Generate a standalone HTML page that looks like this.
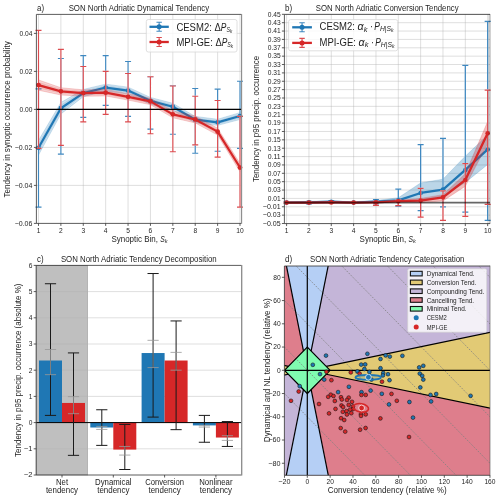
<!DOCTYPE html>
<html><head><meta charset="utf-8"><style>html,body{margin:0;padding:0;background:#fff;}svg{display:block;will-change:transform;}</style></head>
<body><svg width="500" height="500" viewBox="0 0 500 500" font-family="'Liberation Sans', sans-serif">
<rect width="500" height="500" fill="#fff"/>
<g stroke="#b0b0b0" stroke-opacity="0.5" stroke-width="0.8">
<line x1="38.50" y1="14.4" x2="38.50" y2="223.4"/>
<line x1="60.89" y1="14.4" x2="60.89" y2="223.4"/>
<line x1="83.28" y1="14.4" x2="83.28" y2="223.4"/>
<line x1="105.67" y1="14.4" x2="105.67" y2="223.4"/>
<line x1="128.06" y1="14.4" x2="128.06" y2="223.4"/>
<line x1="150.45" y1="14.4" x2="150.45" y2="223.4"/>
<line x1="172.84" y1="14.4" x2="172.84" y2="223.4"/>
<line x1="195.23" y1="14.4" x2="195.23" y2="223.4"/>
<line x1="217.62" y1="14.4" x2="217.62" y2="223.4"/>
<line x1="240.01" y1="14.4" x2="240.01" y2="223.4"/>
<line x1="36.4" y1="33.40" x2="241.4" y2="33.40"/>
<line x1="36.4" y1="71.40" x2="241.4" y2="71.40"/>
<line x1="36.4" y1="109.40" x2="241.4" y2="109.40"/>
<line x1="36.4" y1="147.40" x2="241.4" y2="147.40"/>
<line x1="36.4" y1="185.40" x2="241.4" y2="185.40"/>
</g>
<polygon points="38.50,140.56 60.89,102.56 83.28,89.45 105.67,84.13 128.06,87.17 150.45,97.43 172.84,103.32 195.23,116.43 217.62,119.28 240.01,112.63 240.01,119.47 217.62,125.36 195.23,122.89 172.84,110.16 150.45,104.27 128.06,94.01 105.67,90.97 83.28,96.67 60.89,113.96 38.50,155.00" fill="#1f77b4" fill-opacity="0.2" stroke="#1f77b4" stroke-opacity="0.25" stroke-width="0.8"/>
<polygon points="38.50,143.81 60.89,105.12 83.28,91.07 105.67,85.67 128.06,88.71 150.45,98.97 172.84,104.86 195.23,117.88 217.62,120.65 240.01,114.17 240.01,117.93 217.62,123.99 195.23,121.44 172.84,108.62 150.45,102.73 128.06,92.47 105.67,89.43 83.28,95.05 60.89,111.40 38.50,151.75" fill="#1f77b4" fill-opacity="0.12" stroke="#1f77b4" stroke-opacity="0.15" stroke-width="0.6"/>
<path d="M38.50,88.88V207.06M35.50,88.88H41.50M35.50,207.06H41.50M60.89,58.48V154.05M57.89,58.48H63.89M57.89,154.05H63.89M83.28,55.63V117.38M80.28,55.63H86.28M80.28,117.38H86.28M105.67,55.63V105.41M102.67,55.63H108.67M102.67,105.41H108.67M128.06,61.52V116.43M125.06,61.52H131.06M125.06,116.43H131.06M150.45,76.72V129.16M147.45,76.72H153.45M147.45,129.16H153.45M172.84,85.65V134.29M169.84,85.65H175.84M169.84,134.29H175.84M195.23,88.50V153.29M192.23,88.50H198.23M192.23,153.29H198.23M217.62,89.07V151.20M214.62,89.07H220.62M214.62,151.20H220.62M240.01,81.28V148.35M237.01,81.28H243.01M237.01,148.35H243.01" stroke="#fff" stroke-width="1.15" fill="none"/>
<path d="M38.50,88.88V207.06M35.50,88.88H41.50M35.50,207.06H41.50M60.89,58.48V154.05M57.89,58.48H63.89M57.89,154.05H63.89M83.28,55.63V117.38M80.28,55.63H86.28M80.28,117.38H86.28M105.67,55.63V105.41M102.67,55.63H108.67M102.67,105.41H108.67M128.06,61.52V116.43M125.06,61.52H131.06M125.06,116.43H131.06M150.45,76.72V129.16M147.45,76.72H153.45M147.45,129.16H153.45M172.84,85.65V134.29M169.84,85.65H175.84M169.84,134.29H175.84M195.23,88.50V153.29M192.23,88.50H198.23M192.23,153.29H198.23M217.62,89.07V151.20M214.62,89.07H220.62M214.62,151.20H220.62M240.01,81.28V148.35M237.01,81.28H243.01M237.01,148.35H243.01" stroke="#3f88c0" stroke-width="1.15" fill="none"/>
<polyline points="38.50,147.78 60.89,108.26 83.28,93.06 105.67,87.55 128.06,90.59 150.45,100.85 172.84,106.74 195.23,119.66 217.62,122.32 240.01,116.05" fill="none" stroke="#1f77b4" stroke-width="2.2" stroke-linejoin="round"/>
<circle cx="38.50" cy="147.78" r="2.4" fill="#1f77b4"/>
<circle cx="60.89" cy="108.26" r="2.4" fill="#1f77b4"/>
<circle cx="83.28" cy="93.06" r="2.4" fill="#1f77b4"/>
<circle cx="105.67" cy="87.55" r="2.4" fill="#1f77b4"/>
<circle cx="128.06" cy="90.59" r="2.4" fill="#1f77b4"/>
<circle cx="150.45" cy="100.85" r="2.4" fill="#1f77b4"/>
<circle cx="172.84" cy="106.74" r="2.4" fill="#1f77b4"/>
<circle cx="195.23" cy="119.66" r="2.4" fill="#1f77b4"/>
<circle cx="217.62" cy="122.32" r="2.4" fill="#1f77b4"/>
<circle cx="240.01" cy="116.05" r="2.4" fill="#1f77b4"/>
<polygon points="38.50,79.95 60.89,87.74 83.28,89.83 105.67,89.45 128.06,93.63 150.45,98.19 172.84,110.92 195.23,116.05 217.62,128.21 240.01,163.36 240.01,171.72 217.62,135.05 195.23,122.89 172.84,117.76 150.45,104.65 128.06,100.09 105.67,95.91 83.28,96.29 60.89,94.96 38.50,90.21" fill="#d62728" fill-opacity="0.2" stroke="#d62728" stroke-opacity="0.25" stroke-width="0.8"/>
<polygon points="38.50,82.26 60.89,89.36 83.28,91.28 105.67,90.90 128.06,95.08 150.45,99.64 172.84,112.46 195.23,117.59 217.62,129.75 240.01,165.24 240.01,169.84 217.62,133.51 195.23,121.35 172.84,116.22 150.45,103.20 128.06,98.64 105.67,94.46 83.28,94.84 60.89,93.34 38.50,87.90" fill="#d62728" fill-opacity="0.12" stroke="#d62728" stroke-opacity="0.15" stroke-width="0.6"/>
<path d="M38.50,30.36V148.35M35.50,30.36H41.50M35.50,148.35H41.50M60.89,49.36V145.31M57.89,49.36H63.89M57.89,145.31H63.89M83.28,66.46V121.94M80.28,66.46H86.28M80.28,121.94H86.28M105.67,71.40V114.34M102.67,71.40H108.67M102.67,114.34H108.67M128.06,73.49V121.94M125.06,73.49H131.06M125.06,121.94H131.06M150.45,76.72V133.72M147.45,76.72H153.45M147.45,133.72H153.45M172.84,86.03V151.77M169.84,86.03H175.84M169.84,151.77H175.84M195.23,96.29V144.93M192.23,96.29H198.23M192.23,144.93H198.23M217.62,100.47V157.09M214.62,100.47H220.62M214.62,157.09H220.62M240.01,116.43V207.06M237.01,116.43H243.01M237.01,207.06H243.01" stroke="#fff" stroke-width="1.15" fill="none"/>
<path d="M38.50,30.36V148.35M35.50,30.36H41.50M35.50,148.35H41.50M60.89,49.36V145.31M57.89,49.36H63.89M57.89,145.31H63.89M83.28,66.46V121.94M80.28,66.46H86.28M80.28,121.94H86.28M105.67,71.40V114.34M102.67,71.40H108.67M102.67,114.34H108.67M128.06,73.49V121.94M125.06,73.49H131.06M125.06,121.94H131.06M150.45,76.72V133.72M147.45,76.72H153.45M147.45,133.72H153.45M172.84,86.03V151.77M169.84,86.03H175.84M169.84,151.77H175.84M195.23,96.29V144.93M192.23,96.29H198.23M192.23,144.93H198.23M217.62,100.47V157.09M214.62,100.47H220.62M214.62,157.09H220.62M240.01,116.43V207.06M237.01,116.43H243.01M237.01,207.06H243.01" stroke="#dc4b4f" stroke-width="1.15" fill="none"/>
<polyline points="38.50,85.08 60.89,91.35 83.28,93.06 105.67,92.68 128.06,96.86 150.45,101.42 172.84,114.34 195.23,119.47 217.62,131.63 240.01,167.54" fill="none" stroke="#d62728" stroke-width="2.2" stroke-linejoin="round"/>
<circle cx="38.50" cy="85.08" r="2.4" fill="#d62728"/>
<circle cx="60.89" cy="91.35" r="2.4" fill="#d62728"/>
<circle cx="83.28" cy="93.06" r="2.4" fill="#d62728"/>
<circle cx="105.67" cy="92.68" r="2.4" fill="#d62728"/>
<circle cx="128.06" cy="96.86" r="2.4" fill="#d62728"/>
<circle cx="150.45" cy="101.42" r="2.4" fill="#d62728"/>
<circle cx="172.84" cy="114.34" r="2.4" fill="#d62728"/>
<circle cx="195.23" cy="119.47" r="2.4" fill="#d62728"/>
<circle cx="217.62" cy="131.63" r="2.4" fill="#d62728"/>
<circle cx="240.01" cy="167.54" r="2.4" fill="#d62728"/>
<line x1="36.40" y1="109.40" x2="241.40" y2="109.40" stroke="#000" stroke-width="1.2" />
<path d="M241.40,14.40H36.40V223.40H241.40" fill="none" stroke="#333" stroke-width="0.8"/>
<line x1="241.60" y1="14.00" x2="241.60" y2="223.80" stroke="#8a8a8a" stroke-width="1.1" />
<line x1="38.50" y1="223.40" x2="38.50" y2="225.90" stroke="#333" stroke-width="0.8" />
<text x="38.50" y="232.60" font-size="7.08" text-anchor="middle" fill="#1e1e1e" textLength="3.69" lengthAdjust="spacingAndGlyphs" >1</text>
<line x1="60.89" y1="223.40" x2="60.89" y2="225.90" stroke="#333" stroke-width="0.8" />
<text x="60.89" y="232.60" font-size="7.08" text-anchor="middle" fill="#1e1e1e" textLength="3.69" lengthAdjust="spacingAndGlyphs" >2</text>
<line x1="83.28" y1="223.40" x2="83.28" y2="225.90" stroke="#333" stroke-width="0.8" />
<text x="83.28" y="232.60" font-size="7.08" text-anchor="middle" fill="#1e1e1e" textLength="3.69" lengthAdjust="spacingAndGlyphs" >3</text>
<line x1="105.67" y1="223.40" x2="105.67" y2="225.90" stroke="#333" stroke-width="0.8" />
<text x="105.67" y="232.60" font-size="7.08" text-anchor="middle" fill="#1e1e1e" textLength="3.69" lengthAdjust="spacingAndGlyphs" >4</text>
<line x1="128.06" y1="223.40" x2="128.06" y2="225.90" stroke="#333" stroke-width="0.8" />
<text x="128.06" y="232.60" font-size="7.08" text-anchor="middle" fill="#1e1e1e" textLength="3.69" lengthAdjust="spacingAndGlyphs" >5</text>
<line x1="150.45" y1="223.40" x2="150.45" y2="225.90" stroke="#333" stroke-width="0.8" />
<text x="150.45" y="232.60" font-size="7.08" text-anchor="middle" fill="#1e1e1e" textLength="3.69" lengthAdjust="spacingAndGlyphs" >6</text>
<line x1="172.84" y1="223.40" x2="172.84" y2="225.90" stroke="#333" stroke-width="0.8" />
<text x="172.84" y="232.60" font-size="7.08" text-anchor="middle" fill="#1e1e1e" textLength="3.69" lengthAdjust="spacingAndGlyphs" >7</text>
<line x1="195.23" y1="223.40" x2="195.23" y2="225.90" stroke="#333" stroke-width="0.8" />
<text x="195.23" y="232.60" font-size="7.08" text-anchor="middle" fill="#1e1e1e" textLength="3.69" lengthAdjust="spacingAndGlyphs" >8</text>
<line x1="217.62" y1="223.40" x2="217.62" y2="225.90" stroke="#333" stroke-width="0.8" />
<text x="217.62" y="232.60" font-size="7.08" text-anchor="middle" fill="#1e1e1e" textLength="3.69" lengthAdjust="spacingAndGlyphs" >9</text>
<line x1="240.01" y1="223.40" x2="240.01" y2="225.90" stroke="#333" stroke-width="0.8" />
<text x="240.01" y="232.60" font-size="7.08" text-anchor="middle" fill="#1e1e1e" textLength="7.38" lengthAdjust="spacingAndGlyphs" >10</text>
<line x1="33.90" y1="33.40" x2="36.40" y2="33.40" stroke="#333" stroke-width="0.8" />
<text x="32.40" y="35.70" font-size="7.08" text-anchor="end" fill="#1e1e1e" textLength="12.91" lengthAdjust="spacingAndGlyphs" >0.04</text>
<line x1="33.90" y1="71.40" x2="36.40" y2="71.40" stroke="#333" stroke-width="0.8" />
<text x="32.40" y="73.70" font-size="7.08" text-anchor="end" fill="#1e1e1e" textLength="12.91" lengthAdjust="spacingAndGlyphs" >0.02</text>
<line x1="33.90" y1="109.40" x2="36.40" y2="109.40" stroke="#333" stroke-width="0.8" />
<text x="32.40" y="111.70" font-size="7.08" text-anchor="end" fill="#1e1e1e" textLength="12.91" lengthAdjust="spacingAndGlyphs" >0.00</text>
<line x1="33.90" y1="147.40" x2="36.40" y2="147.40" stroke="#333" stroke-width="0.8" />
<text x="32.40" y="149.70" font-size="7.08" text-anchor="end" fill="#1e1e1e" textLength="17.77" lengthAdjust="spacingAndGlyphs" >−0.02</text>
<line x1="33.90" y1="185.40" x2="36.40" y2="185.40" stroke="#333" stroke-width="0.8" />
<text x="32.40" y="187.70" font-size="7.08" text-anchor="end" fill="#1e1e1e" textLength="17.77" lengthAdjust="spacingAndGlyphs" >−0.04</text>
<line x1="33.90" y1="223.40" x2="36.40" y2="223.40" stroke="#333" stroke-width="0.8" />
<text x="32.40" y="225.70" font-size="7.08" text-anchor="end" fill="#1e1e1e" textLength="17.77" lengthAdjust="spacingAndGlyphs" >−0.06</text>
<rect x="146.3" y="19.5" width="90.7" height="32.5" rx="2" fill="#fff" fill-opacity="0.8" stroke="#d8d8d8" stroke-width="0.8"/>
<path d="M149.50,26.80H168.80" stroke="#1f77b4" stroke-width="2.3"/>
<path d="M159.15,22.30V31.30M156.45,22.30H161.85M156.45,31.30H161.85" stroke="#3f88c0" stroke-width="1.1" fill="none"/>
<circle cx="159.15" cy="26.80" r="2.5" fill="#1f77b4"/>
<path d="M149.50,42.00H168.80" stroke="#d62728" stroke-width="2.3"/>
<path d="M159.15,37.50V46.50M156.45,37.50H161.85M156.45,46.50H161.85" stroke="#dc4b4f" stroke-width="1.1" fill="none"/>
<circle cx="159.15" cy="42.00" r="2.5" fill="#d62728"/>
<text x="176.40" y="30.50" font-size="11.29" fill="#1e1e1e" textLength="44.43" lengthAdjust="spacingAndGlyphs" xml:space="preserve">CESM2: Δ</text>
<text x="220.83" y="30.50" font-size="11.29" fill="#1e1e1e" font-style="italic" textLength="5.58" lengthAdjust="spacingAndGlyphs" xml:space="preserve">P</text>
<text x="226.40" y="32.30" font-size="6.77" fill="#1e1e1e" font-style="italic" textLength="3.52" lengthAdjust="spacingAndGlyphs" xml:space="preserve">S</text>
<text x="229.93" y="33.10" font-size="4.74" fill="#1e1e1e" font-style="italic" textLength="2.25" lengthAdjust="spacingAndGlyphs" xml:space="preserve">k</text>
<text x="176.40" y="45.60" font-size="11.29" fill="#1e1e1e" textLength="45.36" lengthAdjust="spacingAndGlyphs" xml:space="preserve">MPI-GE: Δ</text>
<text x="221.76" y="45.60" font-size="11.29" fill="#1e1e1e" font-style="italic" textLength="5.58" lengthAdjust="spacingAndGlyphs" xml:space="preserve">P</text>
<text x="227.34" y="47.40" font-size="6.77" fill="#1e1e1e" font-style="italic" textLength="3.52" lengthAdjust="spacingAndGlyphs" xml:space="preserve">S</text>
<text x="230.86" y="48.20" font-size="4.74" fill="#1e1e1e" font-style="italic" textLength="2.25" lengthAdjust="spacingAndGlyphs" xml:space="preserve">k</text>
<text x="37.00" y="11.00" font-size="8.54" text-anchor="start" fill="#1e1e1e" textLength="7.02" lengthAdjust="spacingAndGlyphs" >a)</text>
<text x="138.90" y="11.00" font-size="8.54" text-anchor="middle" fill="#1e1e1e" textLength="140.54" lengthAdjust="spacingAndGlyphs" >SON North Adriatic Dynamical Tendency</text>
<text x="111.40" y="242.00" font-size="8.66" fill="#1e1e1e" textLength="48.83" lengthAdjust="spacingAndGlyphs" xml:space="preserve">Synoptic Bin, </text>
<text x="160.23" y="242.00" font-size="8.66" fill="#1e1e1e" font-style="italic" textLength="4.51" lengthAdjust="spacingAndGlyphs" xml:space="preserve">S</text>
<text x="164.74" y="243.40" font-size="6.06" fill="#1e1e1e" font-style="italic" textLength="2.88" lengthAdjust="spacingAndGlyphs" xml:space="preserve">k</text>
<text transform="translate(9.80,119.40) rotate(-90)" x="0" y="0" font-size="8.66" text-anchor="middle" fill="#1e1e1e" textLength="156.12" lengthAdjust="spacingAndGlyphs">Tendency in synoptic occurrence probability</text>
<g stroke="#b0b0b0" stroke-opacity="0.5" stroke-width="0.8">
<line x1="286.60" y1="14.4" x2="286.60" y2="223.6"/>
<line x1="308.94" y1="14.4" x2="308.94" y2="223.6"/>
<line x1="331.28" y1="14.4" x2="331.28" y2="223.6"/>
<line x1="353.62" y1="14.4" x2="353.62" y2="223.6"/>
<line x1="375.96" y1="14.4" x2="375.96" y2="223.6"/>
<line x1="398.30" y1="14.4" x2="398.30" y2="223.6"/>
<line x1="420.64" y1="14.4" x2="420.64" y2="223.6"/>
<line x1="442.98" y1="14.4" x2="442.98" y2="223.6"/>
<line x1="465.32" y1="14.4" x2="465.32" y2="223.6"/>
<line x1="487.66" y1="14.4" x2="487.66" y2="223.6"/>
<line x1="284.4" y1="14.32" x2="490.0" y2="14.32"/>
<line x1="284.4" y1="22.69" x2="490.0" y2="22.69"/>
<line x1="284.4" y1="31.06" x2="490.0" y2="31.06"/>
<line x1="284.4" y1="39.42" x2="490.0" y2="39.42"/>
<line x1="284.4" y1="47.79" x2="490.0" y2="47.79"/>
<line x1="284.4" y1="56.16" x2="490.0" y2="56.16"/>
<line x1="284.4" y1="64.53" x2="490.0" y2="64.53"/>
<line x1="284.4" y1="72.90" x2="490.0" y2="72.90"/>
<line x1="284.4" y1="81.26" x2="490.0" y2="81.26"/>
<line x1="284.4" y1="89.63" x2="490.0" y2="89.63"/>
<line x1="284.4" y1="98.00" x2="490.0" y2="98.00"/>
<line x1="284.4" y1="106.37" x2="490.0" y2="106.37"/>
<line x1="284.4" y1="114.74" x2="490.0" y2="114.74"/>
<line x1="284.4" y1="123.10" x2="490.0" y2="123.10"/>
<line x1="284.4" y1="131.47" x2="490.0" y2="131.47"/>
<line x1="284.4" y1="139.84" x2="490.0" y2="139.84"/>
<line x1="284.4" y1="148.21" x2="490.0" y2="148.21"/>
<line x1="284.4" y1="156.58" x2="490.0" y2="156.58"/>
<line x1="284.4" y1="164.94" x2="490.0" y2="164.94"/>
<line x1="284.4" y1="173.31" x2="490.0" y2="173.31"/>
<line x1="284.4" y1="181.68" x2="490.0" y2="181.68"/>
<line x1="284.4" y1="190.05" x2="490.0" y2="190.05"/>
<line x1="284.4" y1="198.42" x2="490.0" y2="198.42"/>
<line x1="284.4" y1="206.78" x2="490.0" y2="206.78"/>
<line x1="284.4" y1="215.15" x2="490.0" y2="215.15"/>
<line x1="284.4" y1="223.52" x2="490.0" y2="223.52"/>
</g>
<polygon points="286.60,201.76 308.94,201.34 331.28,200.93 353.62,201.76 375.96,200.51 398.30,197.79 420.64,182.94 442.98,179.17 465.32,156.16 487.66,134.99 487.66,164.53 465.32,182.52 442.98,195.91 420.64,200.51 398.30,201.34 375.96,202.60 353.62,203.44 331.28,202.60 308.94,203.44 286.60,203.44" fill="#1f77b4" fill-opacity="0.3" stroke="#1f77b4" stroke-opacity="0.25" stroke-width="0.8"/>
<path d="M286.60,201.76V203.44M283.60,201.76H289.60M283.60,203.44H289.60M308.94,201.34V203.86M305.94,201.34H311.94M305.94,203.86H311.94M331.28,200.51V203.44M328.28,200.51H334.28M328.28,203.44H334.28M353.62,201.76V203.44M350.62,201.76H356.62M350.62,203.44H356.62M375.96,199.59V203.86M372.96,199.59H378.96M372.96,203.86H378.96M398.30,189.21V206.49M395.30,189.21H401.30M395.30,206.49H401.30M420.64,144.61V210.72M417.64,144.61H423.64M417.64,210.72H423.64M442.98,138.29V206.99M439.98,138.29H445.98M439.98,206.99H445.98M465.32,65.49V212.22M462.32,65.49H468.32M462.32,212.22H468.32M487.66,21.43V220.30M484.66,21.43H490.66M484.66,220.30H490.66" stroke="#fff" stroke-width="1.25" fill="none"/>
<path d="M286.60,201.76V203.44M283.60,201.76H289.60M283.60,203.44H289.60M308.94,201.34V203.86M305.94,201.34H311.94M305.94,203.86H311.94M331.28,200.51V203.44M328.28,200.51H334.28M328.28,203.44H334.28M353.62,201.76V203.44M350.62,201.76H356.62M350.62,203.44H356.62M375.96,199.59V203.86M372.96,199.59H378.96M372.96,203.86H378.96M398.30,189.21V206.49M395.30,189.21H401.30M395.30,206.49H401.30M420.64,144.61V210.72M417.64,144.61H423.64M417.64,210.72H423.64M442.98,138.29V206.99M439.98,138.29H445.98M439.98,206.99H445.98M465.32,65.49V212.22M462.32,65.49H468.32M462.32,212.22H468.32M487.66,21.43V220.30M484.66,21.43H490.66M484.66,220.30H490.66" stroke="#3f88c0" stroke-width="1.25" fill="none"/>
<polyline points="286.60,202.60 308.94,202.39 331.28,201.76 353.62,202.60 375.96,201.60 398.30,200.30 420.64,192.98 442.98,189.63 465.32,169.96 487.66,149.46" fill="none" stroke="#1f77b4" stroke-width="2.3" stroke-linejoin="round"/>
<circle cx="286.60" cy="202.60" r="2.3" fill="#1f77b4"/>
<circle cx="308.94" cy="202.39" r="2.3" fill="#1f77b4"/>
<circle cx="331.28" cy="201.76" r="2.3" fill="#1f77b4"/>
<circle cx="353.62" cy="202.60" r="2.3" fill="#1f77b4"/>
<circle cx="375.96" cy="201.60" r="2.3" fill="#1f77b4"/>
<circle cx="398.30" cy="200.30" r="2.3" fill="#1f77b4"/>
<circle cx="420.64" cy="192.98" r="2.3" fill="#1f77b4"/>
<circle cx="442.98" cy="189.63" r="2.3" fill="#1f77b4"/>
<circle cx="465.32" cy="169.96" r="2.3" fill="#1f77b4"/>
<circle cx="487.66" cy="149.46" r="2.3" fill="#1f77b4"/>
<polygon points="286.60,202.18 308.94,202.18 331.28,201.76 353.62,202.18 375.96,201.76 398.30,200.51 420.64,198.42 442.98,194.65 465.32,173.73 487.66,121.43 487.66,143.77 465.32,186.28 442.98,200.93 420.64,202.60 398.30,202.18 375.96,203.02 353.62,203.02 331.28,203.02 308.94,203.02 286.60,203.02" fill="#d62728" fill-opacity="0.3" stroke="#d62728" stroke-opacity="0.25" stroke-width="0.8"/>
<path d="M286.60,202.18V203.02M283.60,202.18H289.60M283.60,203.02H289.60M308.94,202.18V203.02M305.94,202.18H311.94M305.94,203.02H311.94M331.28,202.18V203.02M328.28,202.18H334.28M328.28,203.02H334.28M353.62,202.18V203.02M350.62,202.18H356.62M350.62,203.02H356.62M375.96,201.34V205.40M372.96,201.34H378.96M372.96,205.40H378.96M398.30,200.09V205.61M395.30,200.09H401.30M395.30,205.61H401.30M420.64,188.37V217.24M417.64,188.37H423.64M417.64,217.24H423.64M442.98,190.88V220.30M439.98,190.88H445.98M439.98,220.30H445.98M465.32,163.69V216.41M462.32,163.69H468.32M462.32,216.41H468.32M487.66,90.22V204.27M484.66,90.22H490.66M484.66,204.27H490.66" stroke="#fff" stroke-width="1.25" fill="none"/>
<path d="M286.60,202.18V203.02M283.60,202.18H289.60M283.60,203.02H289.60M308.94,202.18V203.02M305.94,202.18H311.94M305.94,203.02H311.94M331.28,202.18V203.02M328.28,202.18H334.28M328.28,203.02H334.28M353.62,202.18V203.02M350.62,202.18H356.62M350.62,203.02H356.62M375.96,201.34V205.40M372.96,201.34H378.96M372.96,205.40H378.96M398.30,200.09V205.61M395.30,200.09H401.30M395.30,205.61H401.30M420.64,188.37V217.24M417.64,188.37H423.64M417.64,217.24H423.64M442.98,190.88V220.30M439.98,190.88H445.98M439.98,220.30H445.98M465.32,163.69V216.41M462.32,163.69H468.32M462.32,216.41H468.32M487.66,90.22V204.27M484.66,90.22H490.66M484.66,204.27H490.66" stroke="#dc4b4f" stroke-width="1.25" fill="none"/>
<polyline points="286.60,202.60 308.94,202.60 331.28,202.39 353.62,202.60 375.96,202.39 398.30,201.22 420.64,200.59 442.98,197.37 465.32,180.01 487.66,133.35" fill="none" stroke="#d62728" stroke-width="2.3" stroke-linejoin="round"/>
<circle cx="286.60" cy="202.60" r="2.3" fill="#d62728"/>
<circle cx="308.94" cy="202.60" r="2.3" fill="#d62728"/>
<circle cx="331.28" cy="202.39" r="2.3" fill="#d62728"/>
<circle cx="353.62" cy="202.60" r="2.3" fill="#d62728"/>
<circle cx="375.96" cy="202.39" r="2.3" fill="#d62728"/>
<circle cx="398.30" cy="201.22" r="2.3" fill="#d62728"/>
<circle cx="420.64" cy="200.59" r="2.3" fill="#d62728"/>
<circle cx="442.98" cy="197.37" r="2.3" fill="#d62728"/>
<circle cx="465.32" cy="180.01" r="2.3" fill="#d62728"/>
<circle cx="487.66" cy="133.35" r="2.3" fill="#d62728"/>
<line x1="284.40" y1="202.60" x2="490.00" y2="202.60" stroke="#000" stroke-width="1.6" stroke-opacity="0.6"/>
<rect x="488.6" y="14.00" width="2.2" height="210.00" fill="#000" fill-opacity="0.22"/>
<path d="M490.00,14.40H284.40V223.60H490.00" fill="none" stroke="#333" stroke-width="0.8"/>
<line x1="286.60" y1="223.60" x2="286.60" y2="226.10" stroke="#333" stroke-width="0.8" />
<text x="286.60" y="232.60" font-size="7.08" text-anchor="middle" fill="#1e1e1e" textLength="3.69" lengthAdjust="spacingAndGlyphs" >1</text>
<line x1="308.94" y1="223.60" x2="308.94" y2="226.10" stroke="#333" stroke-width="0.8" />
<text x="308.94" y="232.60" font-size="7.08" text-anchor="middle" fill="#1e1e1e" textLength="3.69" lengthAdjust="spacingAndGlyphs" >2</text>
<line x1="331.28" y1="223.60" x2="331.28" y2="226.10" stroke="#333" stroke-width="0.8" />
<text x="331.28" y="232.60" font-size="7.08" text-anchor="middle" fill="#1e1e1e" textLength="3.69" lengthAdjust="spacingAndGlyphs" >3</text>
<line x1="353.62" y1="223.60" x2="353.62" y2="226.10" stroke="#333" stroke-width="0.8" />
<text x="353.62" y="232.60" font-size="7.08" text-anchor="middle" fill="#1e1e1e" textLength="3.69" lengthAdjust="spacingAndGlyphs" >4</text>
<line x1="375.96" y1="223.60" x2="375.96" y2="226.10" stroke="#333" stroke-width="0.8" />
<text x="375.96" y="232.60" font-size="7.08" text-anchor="middle" fill="#1e1e1e" textLength="3.69" lengthAdjust="spacingAndGlyphs" >5</text>
<line x1="398.30" y1="223.60" x2="398.30" y2="226.10" stroke="#333" stroke-width="0.8" />
<text x="398.30" y="232.60" font-size="7.08" text-anchor="middle" fill="#1e1e1e" textLength="3.69" lengthAdjust="spacingAndGlyphs" >6</text>
<line x1="420.64" y1="223.60" x2="420.64" y2="226.10" stroke="#333" stroke-width="0.8" />
<text x="420.64" y="232.60" font-size="7.08" text-anchor="middle" fill="#1e1e1e" textLength="3.69" lengthAdjust="spacingAndGlyphs" >7</text>
<line x1="442.98" y1="223.60" x2="442.98" y2="226.10" stroke="#333" stroke-width="0.8" />
<text x="442.98" y="232.60" font-size="7.08" text-anchor="middle" fill="#1e1e1e" textLength="3.69" lengthAdjust="spacingAndGlyphs" >8</text>
<line x1="465.32" y1="223.60" x2="465.32" y2="226.10" stroke="#333" stroke-width="0.8" />
<text x="465.32" y="232.60" font-size="7.08" text-anchor="middle" fill="#1e1e1e" textLength="3.69" lengthAdjust="spacingAndGlyphs" >9</text>
<line x1="487.66" y1="223.60" x2="487.66" y2="226.10" stroke="#333" stroke-width="0.8" />
<text x="487.66" y="232.60" font-size="7.08" text-anchor="middle" fill="#1e1e1e" textLength="7.38" lengthAdjust="spacingAndGlyphs" >10</text>
<line x1="281.90" y1="14.32" x2="284.40" y2="14.32" stroke="#333" stroke-width="0.8" />
<text x="280.60" y="16.62" font-size="7.08" text-anchor="end" fill="#1e1e1e" textLength="12.91" lengthAdjust="spacingAndGlyphs" >0.45</text>
<line x1="281.90" y1="22.69" x2="284.40" y2="22.69" stroke="#333" stroke-width="0.8" />
<text x="280.60" y="24.99" font-size="7.08" text-anchor="end" fill="#1e1e1e" textLength="12.91" lengthAdjust="spacingAndGlyphs" >0.43</text>
<line x1="281.90" y1="31.06" x2="284.40" y2="31.06" stroke="#333" stroke-width="0.8" />
<text x="280.60" y="33.36" font-size="7.08" text-anchor="end" fill="#1e1e1e" textLength="12.91" lengthAdjust="spacingAndGlyphs" >0.41</text>
<line x1="281.90" y1="39.42" x2="284.40" y2="39.42" stroke="#333" stroke-width="0.8" />
<text x="280.60" y="41.72" font-size="7.08" text-anchor="end" fill="#1e1e1e" textLength="12.91" lengthAdjust="spacingAndGlyphs" >0.39</text>
<line x1="281.90" y1="47.79" x2="284.40" y2="47.79" stroke="#333" stroke-width="0.8" />
<text x="280.60" y="50.09" font-size="7.08" text-anchor="end" fill="#1e1e1e" textLength="12.91" lengthAdjust="spacingAndGlyphs" >0.37</text>
<line x1="281.90" y1="56.16" x2="284.40" y2="56.16" stroke="#333" stroke-width="0.8" />
<text x="280.60" y="58.46" font-size="7.08" text-anchor="end" fill="#1e1e1e" textLength="12.91" lengthAdjust="spacingAndGlyphs" >0.35</text>
<line x1="281.90" y1="64.53" x2="284.40" y2="64.53" stroke="#333" stroke-width="0.8" />
<text x="280.60" y="66.83" font-size="7.08" text-anchor="end" fill="#1e1e1e" textLength="12.91" lengthAdjust="spacingAndGlyphs" >0.33</text>
<line x1="281.90" y1="72.90" x2="284.40" y2="72.90" stroke="#333" stroke-width="0.8" />
<text x="280.60" y="75.20" font-size="7.08" text-anchor="end" fill="#1e1e1e" textLength="12.91" lengthAdjust="spacingAndGlyphs" >0.31</text>
<line x1="281.90" y1="81.26" x2="284.40" y2="81.26" stroke="#333" stroke-width="0.8" />
<text x="280.60" y="83.56" font-size="7.08" text-anchor="end" fill="#1e1e1e" textLength="12.91" lengthAdjust="spacingAndGlyphs" >0.29</text>
<line x1="281.90" y1="89.63" x2="284.40" y2="89.63" stroke="#333" stroke-width="0.8" />
<text x="280.60" y="91.93" font-size="7.08" text-anchor="end" fill="#1e1e1e" textLength="12.91" lengthAdjust="spacingAndGlyphs" >0.27</text>
<line x1="281.90" y1="98.00" x2="284.40" y2="98.00" stroke="#333" stroke-width="0.8" />
<text x="280.60" y="100.30" font-size="7.08" text-anchor="end" fill="#1e1e1e" textLength="12.91" lengthAdjust="spacingAndGlyphs" >0.25</text>
<line x1="281.90" y1="106.37" x2="284.40" y2="106.37" stroke="#333" stroke-width="0.8" />
<text x="280.60" y="108.67" font-size="7.08" text-anchor="end" fill="#1e1e1e" textLength="12.91" lengthAdjust="spacingAndGlyphs" >0.23</text>
<line x1="281.90" y1="114.74" x2="284.40" y2="114.74" stroke="#333" stroke-width="0.8" />
<text x="280.60" y="117.04" font-size="7.08" text-anchor="end" fill="#1e1e1e" textLength="12.91" lengthAdjust="spacingAndGlyphs" >0.21</text>
<line x1="281.90" y1="123.10" x2="284.40" y2="123.10" stroke="#333" stroke-width="0.8" />
<text x="280.60" y="125.40" font-size="7.08" text-anchor="end" fill="#1e1e1e" textLength="12.91" lengthAdjust="spacingAndGlyphs" >0.19</text>
<line x1="281.90" y1="131.47" x2="284.40" y2="131.47" stroke="#333" stroke-width="0.8" />
<text x="280.60" y="133.77" font-size="7.08" text-anchor="end" fill="#1e1e1e" textLength="12.91" lengthAdjust="spacingAndGlyphs" >0.17</text>
<line x1="281.90" y1="139.84" x2="284.40" y2="139.84" stroke="#333" stroke-width="0.8" />
<text x="280.60" y="142.14" font-size="7.08" text-anchor="end" fill="#1e1e1e" textLength="12.91" lengthAdjust="spacingAndGlyphs" >0.15</text>
<line x1="281.90" y1="148.21" x2="284.40" y2="148.21" stroke="#333" stroke-width="0.8" />
<text x="280.60" y="150.51" font-size="7.08" text-anchor="end" fill="#1e1e1e" textLength="12.91" lengthAdjust="spacingAndGlyphs" >0.13</text>
<line x1="281.90" y1="156.58" x2="284.40" y2="156.58" stroke="#333" stroke-width="0.8" />
<text x="280.60" y="158.88" font-size="7.08" text-anchor="end" fill="#1e1e1e" textLength="12.91" lengthAdjust="spacingAndGlyphs" >0.11</text>
<line x1="281.90" y1="164.94" x2="284.40" y2="164.94" stroke="#333" stroke-width="0.8" />
<text x="280.60" y="167.24" font-size="7.08" text-anchor="end" fill="#1e1e1e" textLength="12.91" lengthAdjust="spacingAndGlyphs" >0.09</text>
<line x1="281.90" y1="173.31" x2="284.40" y2="173.31" stroke="#333" stroke-width="0.8" />
<text x="280.60" y="175.61" font-size="7.08" text-anchor="end" fill="#1e1e1e" textLength="12.91" lengthAdjust="spacingAndGlyphs" >0.07</text>
<line x1="281.90" y1="181.68" x2="284.40" y2="181.68" stroke="#333" stroke-width="0.8" />
<text x="280.60" y="183.98" font-size="7.08" text-anchor="end" fill="#1e1e1e" textLength="12.91" lengthAdjust="spacingAndGlyphs" >0.05</text>
<line x1="281.90" y1="190.05" x2="284.40" y2="190.05" stroke="#333" stroke-width="0.8" />
<text x="280.60" y="192.35" font-size="7.08" text-anchor="end" fill="#1e1e1e" textLength="12.91" lengthAdjust="spacingAndGlyphs" >0.03</text>
<line x1="281.90" y1="198.42" x2="284.40" y2="198.42" stroke="#333" stroke-width="0.8" />
<text x="280.60" y="200.72" font-size="7.08" text-anchor="end" fill="#1e1e1e" textLength="12.91" lengthAdjust="spacingAndGlyphs" >0.01</text>
<line x1="281.90" y1="206.78" x2="284.40" y2="206.78" stroke="#333" stroke-width="0.8" />
<text x="280.60" y="209.08" font-size="7.08" text-anchor="end" fill="#1e1e1e" textLength="17.77" lengthAdjust="spacingAndGlyphs" >−0.01</text>
<line x1="281.90" y1="215.15" x2="284.40" y2="215.15" stroke="#333" stroke-width="0.8" />
<text x="280.60" y="217.45" font-size="7.08" text-anchor="end" fill="#1e1e1e" textLength="17.77" lengthAdjust="spacingAndGlyphs" >−0.03</text>
<line x1="281.90" y1="223.52" x2="284.40" y2="223.52" stroke="#333" stroke-width="0.8" />
<text x="280.60" y="225.82" font-size="7.08" text-anchor="end" fill="#1e1e1e" textLength="17.77" lengthAdjust="spacingAndGlyphs" >−0.05</text>
<rect x="288.6" y="19.6" width="109.1" height="31.2" rx="2" fill="#fff" fill-opacity="0.8" stroke="#d8d8d8" stroke-width="0.8"/>
<path d="M292.20,27.30H311.90" stroke="#1f77b4" stroke-width="2.3"/>
<path d="M302.05,22.80V31.80M299.35,22.80H304.75M299.35,31.80H304.75" stroke="#3f88c0" stroke-width="1.1" fill="none"/>
<circle cx="302.05" cy="27.30" r="2.5" fill="#1f77b4"/>
<path d="M292.20,42.90H311.90" stroke="#d62728" stroke-width="2.3"/>
<path d="M302.05,38.40V47.40M299.35,38.40H304.75M299.35,47.40H304.75" stroke="#dc4b4f" stroke-width="1.1" fill="none"/>
<circle cx="302.05" cy="42.90" r="2.5" fill="#d62728"/>
<text x="319.50" y="30.30" font-size="11.29" fill="#1e1e1e" textLength="38.10" lengthAdjust="spacingAndGlyphs" xml:space="preserve">CESM2: </text>
<text x="357.60" y="30.30" font-size="11.29" fill="#1e1e1e" font-style="italic" textLength="6.10" lengthAdjust="spacingAndGlyphs" xml:space="preserve">α</text>
<text x="363.70" y="31.60" font-size="7.90" fill="#1e1e1e" font-style="italic" textLength="3.75" lengthAdjust="spacingAndGlyphs" xml:space="preserve">k</text>
<text x="369.94" y="30.30" font-size="11.29" fill="#1e1e1e" textLength="2.94" lengthAdjust="spacingAndGlyphs" xml:space="preserve">·</text>
<text x="374.35" y="30.30" font-size="11.29" fill="#1e1e1e" font-style="italic" textLength="5.58" lengthAdjust="spacingAndGlyphs" xml:space="preserve">P</text>
<text x="379.93" y="31.40" font-size="7.90" fill="#1e1e1e" font-style="italic" textLength="11.16" lengthAdjust="spacingAndGlyphs" xml:space="preserve">H|S</text>
<text x="391.09" y="32.30" font-size="5.53" fill="#1e1e1e" font-style="italic" textLength="2.62" lengthAdjust="spacingAndGlyphs" xml:space="preserve">k</text>
<text x="319.50" y="45.50" font-size="11.29" fill="#1e1e1e" textLength="39.03" lengthAdjust="spacingAndGlyphs" xml:space="preserve">MPI-GE: </text>
<text x="358.53" y="45.50" font-size="11.29" fill="#1e1e1e" font-style="italic" textLength="6.10" lengthAdjust="spacingAndGlyphs" xml:space="preserve">α</text>
<text x="364.63" y="46.80" font-size="7.90" fill="#1e1e1e" font-style="italic" textLength="3.75" lengthAdjust="spacingAndGlyphs" xml:space="preserve">k</text>
<text x="370.88" y="45.50" font-size="11.29" fill="#1e1e1e" textLength="2.94" lengthAdjust="spacingAndGlyphs" xml:space="preserve">·</text>
<text x="375.29" y="45.50" font-size="11.29" fill="#1e1e1e" font-style="italic" textLength="5.58" lengthAdjust="spacingAndGlyphs" xml:space="preserve">P</text>
<text x="380.87" y="46.60" font-size="7.90" fill="#1e1e1e" font-style="italic" textLength="11.16" lengthAdjust="spacingAndGlyphs" xml:space="preserve">H|S</text>
<text x="392.03" y="47.50" font-size="5.53" fill="#1e1e1e" font-style="italic" textLength="2.62" lengthAdjust="spacingAndGlyphs" xml:space="preserve">k</text>
<text x="285.00" y="11.00" font-size="8.54" text-anchor="start" fill="#1e1e1e" textLength="7.17" lengthAdjust="spacingAndGlyphs" >b)</text>
<text x="387.20" y="11.00" font-size="8.54" text-anchor="middle" fill="#1e1e1e" textLength="142.68" lengthAdjust="spacingAndGlyphs" >SON North Adriatic Conversion Tendency</text>
<text x="359.60" y="242.00" font-size="8.66" fill="#1e1e1e" textLength="48.83" lengthAdjust="spacingAndGlyphs" xml:space="preserve">Synoptic Bin, </text>
<text x="408.43" y="242.00" font-size="8.66" fill="#1e1e1e" font-style="italic" textLength="4.51" lengthAdjust="spacingAndGlyphs" xml:space="preserve">S</text>
<text x="412.94" y="243.40" font-size="6.06" fill="#1e1e1e" font-style="italic" textLength="2.88" lengthAdjust="spacingAndGlyphs" xml:space="preserve">k</text>
<text transform="translate(258.50,119.00) rotate(-90)" x="0" y="0" font-size="8.66" text-anchor="middle" fill="#1e1e1e" textLength="126.15" lengthAdjust="spacingAndGlyphs">Tendency in p95 precip. occurrence</text>
<rect x="36.2" y="265.4" width="51.40" height="209.60" fill="#808080" fill-opacity="0.5" stroke="#808080" stroke-opacity="0.5" stroke-width="0.8"/>
<g stroke="#b0b0b0" stroke-opacity="0.5" stroke-width="0.8">
<line x1="36.2" y1="291.60" x2="241.4" y2="291.60"/>
<line x1="36.2" y1="317.80" x2="241.4" y2="317.80"/>
<line x1="36.2" y1="344.00" x2="241.4" y2="344.00"/>
<line x1="36.2" y1="370.20" x2="241.4" y2="370.20"/>
<line x1="36.2" y1="396.40" x2="241.4" y2="396.40"/>
<line x1="36.2" y1="448.80" x2="241.4" y2="448.80"/>
</g>
<rect x="39.00" y="360.51" width="23.0" height="62.09" fill="#1f77b4"/>
<rect x="62.00" y="402.95" width="23.0" height="19.65" fill="#d62728"/>
<rect x="90.30" y="422.60" width="23.0" height="4.90" fill="#1f77b4"/>
<rect x="113.30" y="422.60" width="23.0" height="26.99" fill="#d62728"/>
<rect x="141.60" y="353.04" width="23.0" height="69.56" fill="#1f77b4"/>
<rect x="164.60" y="360.51" width="23.0" height="62.09" fill="#d62728"/>
<rect x="192.90" y="422.60" width="23.0" height="2.80" fill="#1f77b4"/>
<rect x="215.90" y="422.60" width="23.0" height="14.93" fill="#d62728"/>
<line x1="36.20" y1="422.60" x2="241.40" y2="422.60" stroke="#000" stroke-width="1.0" />
<path d="M50.50,283.74V415.40M44.90,283.74H56.10M44.90,415.40H56.10" stroke="#1a1a1a" stroke-width="1.0" fill="none"/>
<path d="M73.50,352.91V455.35M67.90,352.91H79.10M67.90,455.35H79.10" stroke="#1a1a1a" stroke-width="1.0" fill="none"/>
<path d="M50.50,349.50V374.65M44.90,349.50H56.10M44.90,374.65H56.10" stroke="#999" stroke-opacity="0.8" stroke-width="1.0" fill="none"/>
<path d="M73.50,396.66V413.69M67.90,396.66H79.10M67.90,413.69H79.10" stroke="#999" stroke-opacity="0.8" stroke-width="1.0" fill="none"/>
<path d="M101.80,409.76V445.39M96.20,409.76H107.40M96.20,445.39H107.40" stroke="#1a1a1a" stroke-width="1.0" fill="none"/>
<path d="M124.80,424.43V469.50M119.20,424.43H130.40M119.20,469.50H130.40" stroke="#1a1a1a" stroke-width="1.0" fill="none"/>
<path d="M101.80,426.40V429.41M96.20,426.40H107.40M96.20,429.41H107.40" stroke="#999" stroke-opacity="0.8" stroke-width="1.0" fill="none"/>
<path d="M124.80,446.44V455.09M119.20,446.44H130.40M119.20,455.09H130.40" stroke="#999" stroke-opacity="0.8" stroke-width="1.0" fill="none"/>
<path d="M153.10,273.52V417.10M147.50,273.52H158.70M147.50,417.10H158.70" stroke="#1a1a1a" stroke-width="1.0" fill="none"/>
<path d="M176.10,320.94V429.67M170.50,320.94H181.70M170.50,429.67H181.70" stroke="#1a1a1a" stroke-width="1.0" fill="none"/>
<path d="M153.10,340.33V367.58M147.50,340.33H158.70M147.50,367.58H158.70" stroke="#999" stroke-opacity="0.8" stroke-width="1.0" fill="none"/>
<path d="M176.10,352.38V370.20M170.50,352.38H181.70M170.50,370.20H181.70" stroke="#999" stroke-opacity="0.8" stroke-width="1.0" fill="none"/>
<path d="M204.40,415.40V442.25M198.80,415.40H210.00M198.80,442.25H210.00" stroke="#1a1a1a" stroke-width="1.0" fill="none"/>
<path d="M227.40,421.55V446.44M221.80,421.55H233.00M221.80,446.44H233.00" stroke="#1a1a1a" stroke-width="1.0" fill="none"/>
<path d="M204.40,425.22V427.05M198.80,425.22H210.00M198.80,427.05H210.00" stroke="#999" stroke-opacity="0.8" stroke-width="1.0" fill="none"/>
<path d="M227.40,435.70V440.42M221.80,435.70H233.00M221.80,440.42H233.00" stroke="#999" stroke-opacity="0.8" stroke-width="1.0" fill="none"/>
<path d="M241.40,265.40H36.20V475.00H241.40" fill="none" stroke="#333" stroke-width="0.8"/>
<line x1="241.70" y1="265.00" x2="241.70" y2="475.40" stroke="#8a8a8a" stroke-width="1.3" />
<line x1="33.70" y1="265.40" x2="36.20" y2="265.40" stroke="#333" stroke-width="0.8" />
<text x="32.40" y="267.70" font-size="7.08" text-anchor="end" fill="#1e1e1e" textLength="3.69" lengthAdjust="spacingAndGlyphs" >6</text>
<line x1="33.70" y1="291.60" x2="36.20" y2="291.60" stroke="#333" stroke-width="0.8" />
<text x="32.40" y="293.90" font-size="7.08" text-anchor="end" fill="#1e1e1e" textLength="3.69" lengthAdjust="spacingAndGlyphs" >5</text>
<line x1="33.70" y1="317.80" x2="36.20" y2="317.80" stroke="#333" stroke-width="0.8" />
<text x="32.40" y="320.10" font-size="7.08" text-anchor="end" fill="#1e1e1e" textLength="3.69" lengthAdjust="spacingAndGlyphs" >4</text>
<line x1="33.70" y1="344.00" x2="36.20" y2="344.00" stroke="#333" stroke-width="0.8" />
<text x="32.40" y="346.30" font-size="7.08" text-anchor="end" fill="#1e1e1e" textLength="3.69" lengthAdjust="spacingAndGlyphs" >3</text>
<line x1="33.70" y1="370.20" x2="36.20" y2="370.20" stroke="#333" stroke-width="0.8" />
<text x="32.40" y="372.50" font-size="7.08" text-anchor="end" fill="#1e1e1e" textLength="3.69" lengthAdjust="spacingAndGlyphs" >2</text>
<line x1="33.70" y1="396.40" x2="36.20" y2="396.40" stroke="#333" stroke-width="0.8" />
<text x="32.40" y="398.70" font-size="7.08" text-anchor="end" fill="#1e1e1e" textLength="3.69" lengthAdjust="spacingAndGlyphs" >1</text>
<line x1="33.70" y1="422.60" x2="36.20" y2="422.60" stroke="#333" stroke-width="0.8" />
<text x="32.40" y="424.90" font-size="7.08" text-anchor="end" fill="#1e1e1e" textLength="3.69" lengthAdjust="spacingAndGlyphs" >0</text>
<line x1="33.70" y1="448.80" x2="36.20" y2="448.80" stroke="#333" stroke-width="0.8" />
<text x="32.40" y="451.10" font-size="7.08" text-anchor="end" fill="#1e1e1e" textLength="8.55" lengthAdjust="spacingAndGlyphs" >−1</text>
<line x1="33.70" y1="475.00" x2="36.20" y2="475.00" stroke="#333" stroke-width="0.8" />
<text x="32.40" y="477.30" font-size="7.08" text-anchor="end" fill="#1e1e1e" textLength="8.55" lengthAdjust="spacingAndGlyphs" >−2</text>
<line x1="62.00" y1="475.00" x2="62.00" y2="477.50" stroke="#333" stroke-width="0.8" />
<text x="62.00" y="485.40" font-size="8.42" text-anchor="middle" fill="#1e1e1e" textLength="12.11" lengthAdjust="spacingAndGlyphs" >Net</text>
<text x="62.00" y="493.30" font-size="8.42" text-anchor="middle" fill="#1e1e1e" textLength="32.20" lengthAdjust="spacingAndGlyphs" >tendency</text>
<line x1="113.30" y1="475.00" x2="113.30" y2="477.50" stroke="#333" stroke-width="0.8" />
<text x="113.30" y="485.40" font-size="8.42" text-anchor="middle" fill="#1e1e1e" textLength="36.58" lengthAdjust="spacingAndGlyphs" >Dynamical</text>
<text x="113.30" y="493.30" font-size="8.42" text-anchor="middle" fill="#1e1e1e" textLength="32.20" lengthAdjust="spacingAndGlyphs" >tendency</text>
<line x1="164.60" y1="475.00" x2="164.60" y2="477.50" stroke="#333" stroke-width="0.8" />
<text x="164.60" y="485.40" font-size="8.42" text-anchor="middle" fill="#1e1e1e" textLength="38.68" lengthAdjust="spacingAndGlyphs" >Conversion</text>
<text x="164.60" y="493.30" font-size="8.42" text-anchor="middle" fill="#1e1e1e" textLength="32.20" lengthAdjust="spacingAndGlyphs" >tendency</text>
<line x1="215.90" y1="475.00" x2="215.90" y2="477.50" stroke="#333" stroke-width="0.8" />
<text x="215.90" y="485.40" font-size="8.42" text-anchor="middle" fill="#1e1e1e" textLength="33.27" lengthAdjust="spacingAndGlyphs" >Nonlinear</text>
<text x="215.90" y="493.30" font-size="8.42" text-anchor="middle" fill="#1e1e1e" textLength="32.20" lengthAdjust="spacingAndGlyphs" >tendency</text>
<text x="37.00" y="262.00" font-size="8.54" text-anchor="start" fill="#1e1e1e" textLength="6.58" lengthAdjust="spacingAndGlyphs" >c)</text>
<text x="138.80" y="262.00" font-size="8.54" text-anchor="middle" fill="#1e1e1e" textLength="155.81" lengthAdjust="spacingAndGlyphs" >SON North Adriatic Tendency Decomposition</text>
<text transform="translate(20.60,370.20) rotate(-90)" x="0" y="0" font-size="8.66" text-anchor="middle" fill="#1e1e1e" textLength="173.47" lengthAdjust="spacingAndGlyphs">Tendency in p95 precip. occurrence (absolute %)</text>
<defs><clipPath id="cd"><rect x="284.40" y="266.00" width="205.60" height="209.30"/></clipPath></defs>
<g clip-path="url(#cd)">
<polygon points="307.30,370.30 763.98,370.30 763.98,-94.58 307.30,-94.58" fill="#c4b5d8"/>
<polygon points="307.30,370.30 -149.38,370.30 -149.38,835.18 307.30,835.18" fill="#c4b5d8"/>
<polygon points="307.30,370.30 -149.38,370.30 -149.38,-94.58 307.30,-94.58" fill="#de7e8c"/>
<polygon points="307.30,370.30 763.98,370.30 763.98,835.18 307.30,835.18" fill="#de7e8c"/>
<polygon points="307.30,370.30 763.98,275.70 763.98,464.90" fill="#e2ca75"/>
<polygon points="307.30,370.30 -149.38,275.70 -149.38,464.90" fill="#e2ca75"/>
<polygon points="307.30,370.30 400.23,-94.58 214.37,-94.58" fill="#b5cff5"/>
<polygon points="307.30,370.30 400.23,835.18 214.37,835.18" fill="#b5cff5"/>
<polygon points="330.13,370.30 307.30,347.06 284.47,370.30 307.30,393.54" fill="#80fbb0"/>
<line x1="33.29" y1="137.86" x2="489.97" y2="602.74" stroke="#808080" stroke-opacity="0.85" stroke-width="1.0" stroke-dasharray="0.5,2.1" stroke-linecap="round"/>
<line x1="78.96" y1="137.86" x2="535.64" y2="602.74" stroke="#808080" stroke-opacity="0.85" stroke-width="1.0" stroke-dasharray="0.5,2.1" stroke-linecap="round"/>
<line x1="124.63" y1="137.86" x2="581.31" y2="602.74" stroke="#808080" stroke-opacity="0.85" stroke-width="1.0" stroke-dasharray="0.5,2.1" stroke-linecap="round"/>
<line x1="170.30" y1="137.86" x2="626.98" y2="602.74" stroke="#808080" stroke-opacity="0.85" stroke-width="1.0" stroke-dasharray="0.5,2.1" stroke-linecap="round"/>
<line x1="215.96" y1="137.86" x2="672.64" y2="602.74" stroke="#808080" stroke-opacity="0.85" stroke-width="1.0" stroke-dasharray="0.5,2.1" stroke-linecap="round"/>
<line x1="261.63" y1="137.86" x2="718.31" y2="602.74" stroke="#808080" stroke-opacity="0.85" stroke-width="1.0" stroke-dasharray="0.5,2.1" stroke-linecap="round"/>
<line x1="307.30" y1="137.86" x2="763.98" y2="602.74" stroke="#808080" stroke-opacity="0.85" stroke-width="1.0" stroke-dasharray="0.5,2.1" stroke-linecap="round"/>
<line x1="352.97" y1="137.86" x2="809.65" y2="602.74" stroke="#808080" stroke-opacity="0.85" stroke-width="1.0" stroke-dasharray="0.5,2.1" stroke-linecap="round"/>
<polygon points="330.13,370.30 307.30,347.06 284.47,370.30 307.30,393.54" fill="none" stroke="#000" stroke-width="1.2"/>
<line x1="326.27" y1="366.37" x2="763.98" y2="275.70" stroke="#000" stroke-width="1.2"/>
<line x1="311.16" y1="350.99" x2="400.23" y2="-94.58" stroke="#000" stroke-width="1.2"/>
<line x1="326.27" y1="374.23" x2="763.98" y2="464.90" stroke="#000" stroke-width="1.2"/>
<line x1="303.44" y1="350.99" x2="214.37" y2="-94.58" stroke="#000" stroke-width="1.2"/>
<line x1="288.33" y1="366.37" x2="-149.38" y2="275.70" stroke="#000" stroke-width="1.2"/>
<line x1="311.16" y1="389.61" x2="400.23" y2="835.18" stroke="#000" stroke-width="1.2"/>
<line x1="288.33" y1="374.23" x2="-149.38" y2="464.90" stroke="#000" stroke-width="1.2"/>
<line x1="303.44" y1="389.61" x2="214.37" y2="835.18" stroke="#000" stroke-width="1.2"/>
<line x1="284.40" y1="370.30" x2="490.00" y2="370.30" stroke="#000" stroke-width="1.2" />
<line x1="307.30" y1="266.00" x2="307.30" y2="475.30" stroke="#000" stroke-width="1.2" />
</g>
<g fill="#1f77b4" stroke="#1a1a1a" stroke-width="0.6">
<circle cx="326" cy="355.6" r="1.9"/>
<circle cx="312.8" cy="364.8" r="1.9"/>
<circle cx="320" cy="374.1" r="1.9"/>
<circle cx="324.2" cy="379.6" r="1.9"/>
<circle cx="299.7" cy="386.1" r="1.9"/>
<circle cx="348.9" cy="386.8" r="1.9"/>
<circle cx="338.1" cy="392.1" r="1.9"/>
<circle cx="367.4" cy="353.8" r="1.9"/>
<circle cx="385.6" cy="355.4" r="1.9"/>
<circle cx="389.8" cy="356.6" r="1.9"/>
<circle cx="380.5" cy="359" r="1.9"/>
<circle cx="361.2" cy="364.6" r="1.9"/>
<circle cx="365.2" cy="364.4" r="1.9"/>
<circle cx="364.4" cy="369" r="1.9"/>
<circle cx="380.5" cy="368.2" r="1.9"/>
<circle cx="357.4" cy="371.4" r="1.9"/>
<circle cx="369.4" cy="372" r="1.9"/>
<circle cx="383.2" cy="373" r="1.9"/>
<circle cx="382.9" cy="375.4" r="1.9"/>
<circle cx="388" cy="374.2" r="1.9"/>
<circle cx="371.5" cy="379.6" r="1.9"/>
<circle cx="389.5" cy="380.2" r="1.9"/>
<circle cx="370.6" cy="390.6" r="1.9"/>
<circle cx="361.5" cy="392.2" r="1.9"/>
<circle cx="381.8" cy="393.8" r="1.9"/>
<circle cx="402.4" cy="355.8" r="1.9"/>
<circle cx="419.2" cy="367.4" r="1.9"/>
<circle cx="423.3" cy="365.8" r="1.9"/>
<circle cx="419.8" cy="373.6" r="1.9"/>
<circle cx="422.2" cy="375.8" r="1.9"/>
<circle cx="423.3" cy="379.6" r="1.9"/>
<circle cx="420.3" cy="387.4" r="1.9"/>
<circle cx="430.5" cy="394.9" r="1.9"/>
<circle cx="436.2" cy="394" r="1.9"/>
<circle cx="470.6" cy="395.8" r="1.9"/>
<circle cx="431.1" cy="401.4" r="1.9"/>
<circle cx="389" cy="404.4" r="1.9"/>
<circle cx="409.4" cy="402" r="1.9"/>
<circle cx="413" cy="417.6" r="1.9"/>
</g>
<g fill="#d62728" stroke="#1a1a1a" stroke-width="0.6">
<circle cx="326.4" cy="371.8" r="1.9"/>
<circle cx="331.4" cy="380.2" r="1.9"/>
<circle cx="298.7" cy="391.5" r="1.9"/>
<circle cx="328.2" cy="396.8" r="1.9"/>
<circle cx="330.8" cy="394.7" r="1.9"/>
<circle cx="333.5" cy="396" r="1.9"/>
<circle cx="341" cy="397.2" r="1.9"/>
<circle cx="348.7" cy="397.6" r="1.9"/>
<circle cx="291" cy="400.8" r="1.9"/>
<circle cx="319" cy="404" r="1.9"/>
<circle cx="334.8" cy="401" r="1.9"/>
<circle cx="341.8" cy="399.5" r="1.9"/>
<circle cx="347" cy="400" r="1.9"/>
<circle cx="341.5" cy="405.5" r="1.9"/>
<circle cx="343.1" cy="407" r="1.9"/>
<circle cx="348.7" cy="404.9" r="1.9"/>
<circle cx="335.5" cy="408.9" r="1.9"/>
<circle cx="329" cy="413.4" r="1.9"/>
<circle cx="342.8" cy="411.8" r="1.9"/>
<circle cx="346.5" cy="411.1" r="1.9"/>
<circle cx="346.9" cy="414.5" r="1.9"/>
<circle cx="341.1" cy="418.2" r="1.9"/>
<circle cx="344.2" cy="420" r="1.9"/>
<circle cx="340.7" cy="428.1" r="1.9"/>
<circle cx="345.2" cy="431.6" r="1.9"/>
<circle cx="350.8" cy="372.4" r="1.9"/>
<circle cx="359.6" cy="373.6" r="1.9"/>
<circle cx="382" cy="381.7" r="1.9"/>
<circle cx="361.4" cy="394.9" r="1.9"/>
<circle cx="365.7" cy="394.9" r="1.9"/>
<circle cx="391.5" cy="393.9" r="1.9"/>
<circle cx="352" cy="401.8" r="1.9"/>
<circle cx="352.9" cy="406.4" r="1.9"/>
<circle cx="353" cy="409.1" r="1.9"/>
<circle cx="350.2" cy="409.6" r="1.9"/>
<circle cx="351.3" cy="413.2" r="1.9"/>
<circle cx="360.9" cy="414.2" r="1.9"/>
<circle cx="361" cy="415.9" r="1.9"/>
<circle cx="365.7" cy="414.4" r="1.9"/>
<circle cx="380.4" cy="418.4" r="1.9"/>
<circle cx="360.1" cy="429.7" r="1.9"/>
<circle cx="365.6" cy="428" r="1.9"/>
<circle cx="396.8" cy="400.8" r="1.9"/>
<circle cx="409" cy="437" r="1.9"/>
</g>
<ellipse cx="368.2" cy="377.4" rx="12.8" ry="2.4" fill="#1f77b4" fill-opacity="0.15" stroke="#1f77b4" stroke-width="1.8"/>
<circle cx="368.4" cy="377.2" r="2.9" fill="#1f77b4" stroke="#fff" stroke-opacity="0.8" stroke-width="0.9"/>
<ellipse cx="0" cy="0" rx="7.6" ry="4.2" transform="translate(361.0,407.8) rotate(10)" fill="none" stroke="#d62728" stroke-width="1.6"/>
<circle cx="361.6" cy="408" r="2.9" fill="#d62728" stroke="#fff" stroke-opacity="0.8" stroke-width="0.9"/>
<path d="M490.00,266.00H284.40V475.30H490.00" fill="none" stroke="#333" stroke-width="0.8"/>
<line x1="490.00" y1="265.60" x2="490.00" y2="475.70" stroke="#555" stroke-width="0.6" />
<rect x="407.7" y="268.8" width="79.0" height="63.4" rx="1.5" fill="#fff" fill-opacity="0.8" stroke="#d0d0d0" stroke-width="0.6"/>
<rect x="410.4" y="271.30" width="11.8" height="4.6" fill="#b5cff5" stroke="#111" stroke-width="1.1"/>
<text x="426.70" y="276.10" font-size="7.08" text-anchor="start" fill="#1e1e1e" textLength="47.92" lengthAdjust="spacingAndGlyphs" >Dynamical Tend.</text>
<rect x="410.4" y="280.10" width="11.8" height="4.6" fill="#e2ca75" stroke="#111" stroke-width="1.1"/>
<text x="426.70" y="284.90" font-size="7.08" text-anchor="start" fill="#1e1e1e" textLength="49.69" lengthAdjust="spacingAndGlyphs" >Conversion Tend.</text>
<rect x="410.4" y="288.90" width="11.8" height="4.6" fill="#c4b5d8" stroke="#111" stroke-width="1.1"/>
<text x="426.70" y="293.70" font-size="7.08" text-anchor="start" fill="#1e1e1e" textLength="57.65" lengthAdjust="spacingAndGlyphs" >Compounding Tend.</text>
<rect x="410.4" y="297.70" width="11.8" height="4.6" fill="#de7e8c" stroke="#111" stroke-width="1.1"/>
<text x="426.70" y="302.50" font-size="7.08" text-anchor="start" fill="#1e1e1e" textLength="47.40" lengthAdjust="spacingAndGlyphs" >Cancelling Tend.</text>
<rect x="410.4" y="306.50" width="11.8" height="4.6" fill="#80fbb0" stroke="#111" stroke-width="1.1"/>
<text x="426.70" y="311.30" font-size="7.08" text-anchor="start" fill="#1e1e1e" textLength="39.89" lengthAdjust="spacingAndGlyphs" >Minimal Tend.</text>
<circle cx="416.2" cy="317.8" r="2.5" fill="#1f77b4"/>
<text x="426.70" y="320.30" font-size="7.08" text-anchor="start" fill="#1e1e1e" textLength="20.09" lengthAdjust="spacingAndGlyphs" >CESM2</text>
<circle cx="416.2" cy="327.0" r="2.5" fill="#d62728"/>
<text x="426.70" y="329.50" font-size="7.08" text-anchor="start" fill="#1e1e1e" textLength="20.68" lengthAdjust="spacingAndGlyphs" >MPI-GE</text>
<line x1="284.47" y1="475.30" x2="284.47" y2="477.80" stroke="#333" stroke-width="0.8" />
<text x="284.47" y="484.00" font-size="7.08" text-anchor="middle" fill="#1e1e1e" textLength="12.24" lengthAdjust="spacingAndGlyphs" >−20</text>
<line x1="307.30" y1="475.30" x2="307.30" y2="477.80" stroke="#333" stroke-width="0.8" />
<text x="307.30" y="484.00" font-size="7.08" text-anchor="middle" fill="#1e1e1e" textLength="3.69" lengthAdjust="spacingAndGlyphs" >0</text>
<line x1="330.13" y1="475.30" x2="330.13" y2="477.80" stroke="#333" stroke-width="0.8" />
<text x="330.13" y="484.00" font-size="7.08" text-anchor="middle" fill="#1e1e1e" textLength="7.38" lengthAdjust="spacingAndGlyphs" >20</text>
<line x1="352.97" y1="475.30" x2="352.97" y2="477.80" stroke="#333" stroke-width="0.8" />
<text x="352.97" y="484.00" font-size="7.08" text-anchor="middle" fill="#1e1e1e" textLength="7.38" lengthAdjust="spacingAndGlyphs" >40</text>
<line x1="375.80" y1="475.30" x2="375.80" y2="477.80" stroke="#333" stroke-width="0.8" />
<text x="375.80" y="484.00" font-size="7.08" text-anchor="middle" fill="#1e1e1e" textLength="7.38" lengthAdjust="spacingAndGlyphs" >60</text>
<line x1="398.64" y1="475.30" x2="398.64" y2="477.80" stroke="#333" stroke-width="0.8" />
<text x="398.64" y="484.00" font-size="7.08" text-anchor="middle" fill="#1e1e1e" textLength="7.38" lengthAdjust="spacingAndGlyphs" >80</text>
<line x1="421.47" y1="475.30" x2="421.47" y2="477.80" stroke="#333" stroke-width="0.8" />
<text x="421.47" y="484.00" font-size="7.08" text-anchor="middle" fill="#1e1e1e" textLength="11.07" lengthAdjust="spacingAndGlyphs" >100</text>
<line x1="444.30" y1="475.30" x2="444.30" y2="477.80" stroke="#333" stroke-width="0.8" />
<text x="444.30" y="484.00" font-size="7.08" text-anchor="middle" fill="#1e1e1e" textLength="11.07" lengthAdjust="spacingAndGlyphs" >120</text>
<line x1="467.14" y1="475.30" x2="467.14" y2="477.80" stroke="#333" stroke-width="0.8" />
<text x="467.14" y="484.00" font-size="7.08" text-anchor="middle" fill="#1e1e1e" textLength="11.07" lengthAdjust="spacingAndGlyphs" >140</text>
<line x1="489.97" y1="475.30" x2="489.97" y2="477.80" stroke="#333" stroke-width="0.8" />
<text x="489.97" y="484.00" font-size="7.08" text-anchor="middle" fill="#1e1e1e" textLength="11.07" lengthAdjust="spacingAndGlyphs" >160</text>
<line x1="281.90" y1="277.32" x2="284.40" y2="277.32" stroke="#333" stroke-width="0.8" />
<text x="280.60" y="279.62" font-size="7.08" text-anchor="end" fill="#1e1e1e" textLength="7.38" lengthAdjust="spacingAndGlyphs" >80</text>
<line x1="281.90" y1="300.57" x2="284.40" y2="300.57" stroke="#333" stroke-width="0.8" />
<text x="280.60" y="302.87" font-size="7.08" text-anchor="end" fill="#1e1e1e" textLength="7.38" lengthAdjust="spacingAndGlyphs" >60</text>
<line x1="281.90" y1="323.81" x2="284.40" y2="323.81" stroke="#333" stroke-width="0.8" />
<text x="280.60" y="326.11" font-size="7.08" text-anchor="end" fill="#1e1e1e" textLength="7.38" lengthAdjust="spacingAndGlyphs" >40</text>
<line x1="281.90" y1="347.06" x2="284.40" y2="347.06" stroke="#333" stroke-width="0.8" />
<text x="280.60" y="349.36" font-size="7.08" text-anchor="end" fill="#1e1e1e" textLength="7.38" lengthAdjust="spacingAndGlyphs" >20</text>
<line x1="281.90" y1="370.30" x2="284.40" y2="370.30" stroke="#333" stroke-width="0.8" />
<text x="280.60" y="372.60" font-size="7.08" text-anchor="end" fill="#1e1e1e" textLength="3.69" lengthAdjust="spacingAndGlyphs" >0</text>
<line x1="281.90" y1="393.54" x2="284.40" y2="393.54" stroke="#333" stroke-width="0.8" />
<text x="280.60" y="395.84" font-size="7.08" text-anchor="end" fill="#1e1e1e" textLength="12.24" lengthAdjust="spacingAndGlyphs" >−20</text>
<line x1="281.90" y1="416.79" x2="284.40" y2="416.79" stroke="#333" stroke-width="0.8" />
<text x="280.60" y="419.09" font-size="7.08" text-anchor="end" fill="#1e1e1e" textLength="12.24" lengthAdjust="spacingAndGlyphs" >−40</text>
<line x1="281.90" y1="440.03" x2="284.40" y2="440.03" stroke="#333" stroke-width="0.8" />
<text x="280.60" y="442.33" font-size="7.08" text-anchor="end" fill="#1e1e1e" textLength="12.24" lengthAdjust="spacingAndGlyphs" >−60</text>
<line x1="281.90" y1="463.28" x2="284.40" y2="463.28" stroke="#333" stroke-width="0.8" />
<text x="280.60" y="465.58" font-size="7.08" text-anchor="end" fill="#1e1e1e" textLength="12.24" lengthAdjust="spacingAndGlyphs" >−80</text>
<text x="285.00" y="262.00" font-size="8.54" text-anchor="start" fill="#1e1e1e" textLength="7.17" lengthAdjust="spacingAndGlyphs" >d)</text>
<text x="387.20" y="262.00" font-size="8.54" text-anchor="middle" fill="#1e1e1e" textLength="154.56" lengthAdjust="spacingAndGlyphs" >SON North Adriatic Tendency Categorisation</text>
<text x="387.20" y="493.00" font-size="8.66" text-anchor="middle" fill="#1e1e1e" textLength="118.78" lengthAdjust="spacingAndGlyphs" >Conversion tendency (relative %)</text>
<text transform="translate(269.90,370.30) rotate(-90)" x="0" y="0" font-size="8.66" text-anchor="middle" fill="#1e1e1e" textLength="143.74" lengthAdjust="spacingAndGlyphs">Dynamical and NL tendency (relative %)</text>
</svg></body></html>
